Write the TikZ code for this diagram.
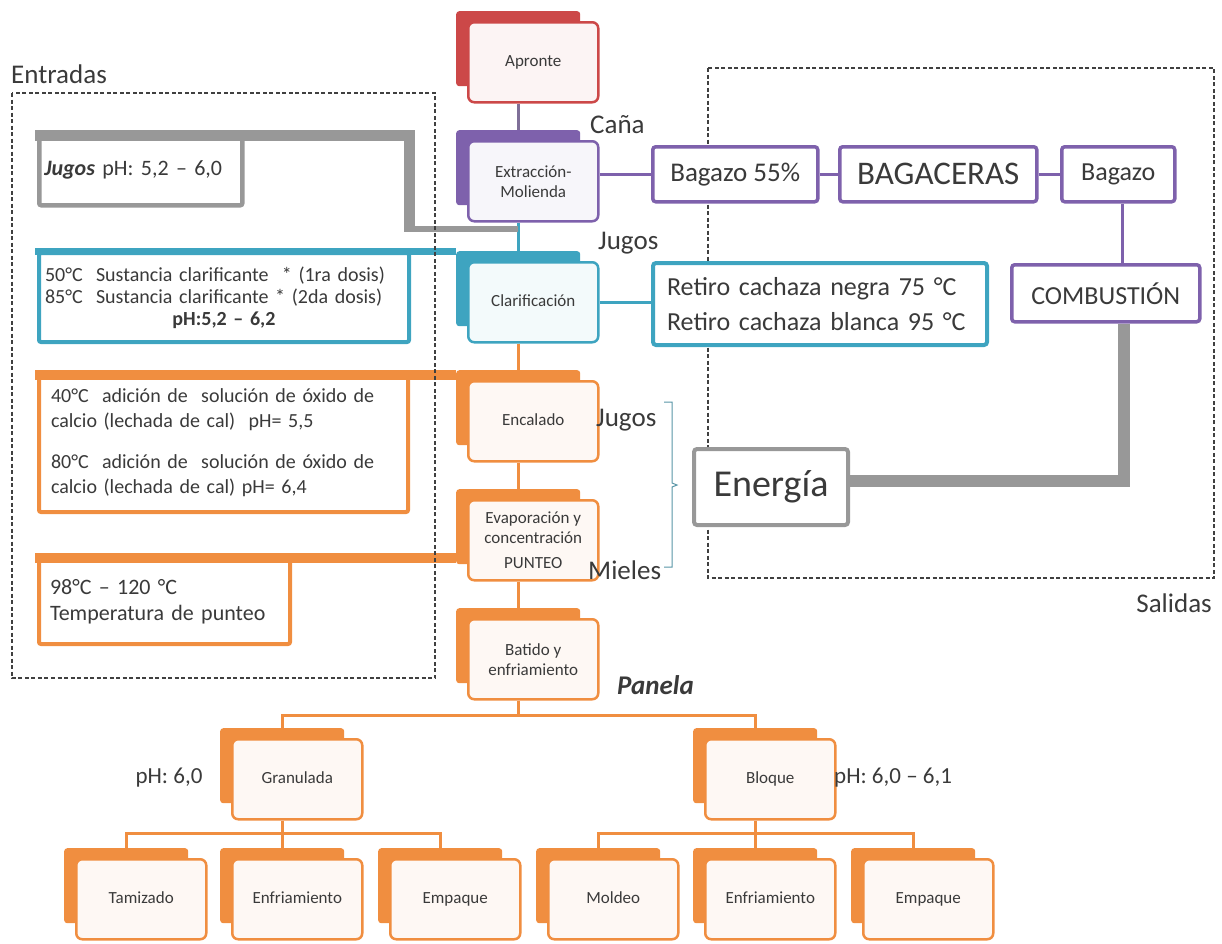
\documentclass[tikz,border=0pt]{standalone}
\usepackage{fontspec}
\setmainfont{Carlito}
\usetikzlibrary{positioning}

\definecolor{rojo}{RGB}{204,72,72}
\definecolor{lila}{RGB}{126,97,172}
\definecolor{turq}{RGB}{62,164,192}
\definecolor{naranja}{RGB}{240,142,64}
\definecolor{gris}{RGB}{152,152,152}
\definecolor{texto}{RGB}{58,58,58}

\tikzset{
  atras/.style={fill=#1, rounded corners=3pt, minimum width=124pt, minimum height=75pt,
    inner sep=0pt, anchor=north west},
  frente/.style={draw=#1, fill=#1!6, line width=2.5pt, rounded corners=6pt,
    minimum width=130pt, minimum height=80pt, inner sep=1pt, align=center,
    anchor=north west, text=texto, font=\fontsize{17}{20}\selectfont},
  lado/.style={draw=#1, fill=white, line width=4pt, rounded corners=2pt,
    anchor=north west, align=left, text=texto, font=\fontsize{20}{25}\selectfont},
  caja/.style={draw=#1, fill=white, line width=3.5pt, rounded corners=3pt,
    anchor=north west, inner sep=0pt, text=texto},
  lin/.style={line width=3pt},
  etiq/.style={text=texto, font=\fontsize{27}{32}\selectfont, inner sep=0pt},
  recuadro/.style={draw=black!75, line width=1.1pt, dash pattern=on 4pt off 2.5pt},
}

\begin{document}
\begin{tikzpicture}[x=1pt, y=-1pt]
  \useasboundingbox (0,0) rectangle (1222,943);

  % salidas
  \draw[recuadro] (708,68) rectangle (1214,578);
  \node[etiq, anchor=east] (salidas) at (1212,603) {Salidas};
  \node[etiq, anchor=west] (entradas) at (11,74) {Entradas};

  % columna del proceso
  \node[atras=rojo] (apr-b) at (456,11) {};
  \node[frente=rojo] (apr) at ([shift={(11pt,-10pt)}]apr-b.north west) {\strut Apronte};
  \node[atras=lila] (ext-b) at (456,130) {};
  \node[frente=lila] (ext) at ([shift={(11pt,-10pt)}]ext-b.north west) {Extracción-\\Molienda};
  \node[atras=turq] (cla-b) at (456,251) {};
  \node[frente=turq] (cla) at ([shift={(11pt,-10pt)}]cla-b.north west) {\strut Clarificación};
  \node[atras=naranja] (enc-b) at (456,370) {};
  \node[frente=naranja] (enc) at ([shift={(11pt,-10pt)}]enc-b.north west) {\strut Encalado};
  \node[atras=naranja] (eva-b) at (456,489) {};
  \node[frente=naranja] (eva) at ([shift={(11pt,-10pt)}]eva-b.north west) {Evaporación y\\concentración\\[5pt]PUNTEO};
  \node[atras=naranja] (bat-b) at (456,608) {};
  \node[frente=naranja] (bat) at ([shift={(11pt,-10pt)}]bat-b.north west) {Batido y\\enfriamiento};

  % panela
  \node[atras=naranja] (gra-b) at (220,728) {};
  \node[frente=naranja] (gra) at ([shift={(11pt,-10pt)}]gra-b.north west) {\strut Granulada};
  \node[atras=naranja] (blo-b) at (693,728) {};
  \node[frente=naranja] (blo) at ([shift={(11pt,-10pt)}]blo-b.north west) {\strut Bloque};
  \node[atras=naranja] (tam-b) at (64,848) {};
  \node[frente=naranja] (tam) at ([shift={(11pt,-10pt)}]tam-b.north west) {\strut Tamizado};
  \node[atras=naranja] (enf1-b) at (220,848) {};
  \node[frente=naranja] (enf1) at ([shift={(11pt,-10pt)}]enf1-b.north west) {\strut Enfriamiento};
  \node[atras=naranja] (emp1-b) at (378,848) {};
  \node[frente=naranja] (emp1) at ([shift={(11pt,-10pt)}]emp1-b.north west) {\strut Empaque};
  \node[atras=naranja] (mol-b) at (536,848) {};
  \node[frente=naranja] (mol) at ([shift={(11pt,-10pt)}]mol-b.north west) {\strut Moldeo};
  \node[atras=naranja] (enf2-b) at (693,848) {};
  \node[frente=naranja] (enf2) at ([shift={(11pt,-10pt)}]enf2-b.north west) {\strut Enfriamiento};
  \node[atras=naranja] (emp2-b) at (851,848) {};
  \node[frente=naranja] (emp2) at ([shift={(11pt,-10pt)}]emp2-b.north west) {\strut Empaque};

  % entradas
  \node[lado=gris, line width=4.5pt, text width=193pt, inner xsep=5pt, minimum height=71pt,
    font=\fontsize{22}{26}\selectfont] (jug) at (37,132) {\textbf{\textit{Jugos}} pH: 5,2 – 6,0};
  \node[lado=turq, text width=358pt, inner xsep=6pt, minimum height=89pt,
    font=\fontsize{20}{22}\selectfont] (clab) at (37,251)
    {50°C\ \ Sustancia clarificante\ \ * (1ra dosis)\\
     85°C\ \ Sustancia clarificante * (2da dosis)\\
     \hspace*{\fill}\textbf{pH:5,2 – 6,2}\hspace*{\fill}};
  \node[lado=naranja, text width=345pt, inner xsep=12pt, minimum height=138pt] (encb) at (37,372)
    {40°C\ \ adición de\ \ solución de óxido de\\
     calcio (lechada de cal)\ \ pH= 5,5\\[16pt]
     80°C\ \ adición de\ \ solución de óxido de\\
     calcio (lechada de cal) pH= 6,4};
  \node[lado=naranja, text width=229pt, inner xsep=11pt, minimum height=85pt,
    font=\fontsize{22}{26}\selectfont] (punb) at (37,557)
    {98°C – 120 °C\\Temperatura de punteo};

  % salidas
  \node[caja=lila, minimum width=165pt, minimum height=55pt, font=\fontsize{27}{32}\selectfont]
    (b55) at (651,145) {Bagazo 55\%};
  \node[caja=lila, minimum width=197pt, minimum height=55pt, font=\fontsize{33}{38}\selectfont]
    (bgc) at (838,145) {BAGACERAS};
  \node[caja=lila, minimum width=113pt, minimum height=55pt, font=\fontsize{26}{30}\selectfont]
    (bgz) at (1060,145) {Bagazo};
  \node[caja=lila, minimum width=188pt, minimum height=57pt, font=\fontsize{26}{30}\selectfont]
    (comb) at (1010,263) {COMBUSTIÓN};
  \node[caja=turq, line width=4pt, text width=306pt, inner xsep=14pt, minimum height=82pt,
    align=left, font=\fontsize{26}{35}\selectfont] (ret) at (651,261)
    {Retiro cachaza negra 75 °C\\Retiro cachaza blanca 95 °C};
  \node[caja=gris, line width=4pt, minimum width=154pt, minimum height=76pt,
    font=\fontsize{38}{44}\selectfont] (ene) at (692,447) {Energía};

  % textos sueltos
  \node[etiq, anchor=west] (cana) at (590,125) {Caña};
  \node[etiq, anchor=west] (jugos1) at (598,243) {Jugos};
  \node[etiq, anchor=west] (jugos2) at (596,420) {Jugos};
  \node[etiq, anchor=west] (mieles) at (588,570) {Mieles};
  \node[etiq, anchor=west] (panela) at (617,685) {\textbf{\textit{Panela}}};
  \node[etiq, font=\fontsize{23}{27}\selectfont] (ph1) at (169,778) {pH: 6,0};
  \node[etiq, anchor=west, font=\fontsize{23}{27}\selectfont] (ph2) at (834,778) {pH: 6,0 – 6,1};

  % conectores
  \draw[lin, lila!55!gray] (apr.south -| apr-b.south) -- (ext-b.north);
  \draw[lin, turq] (ext.south -| ext-b.south) -- (cla-b.north);
  \draw[lin, naranja] (cla.south -| cla-b.south) -- (enc-b.north);
  \draw[lin, naranja] (enc.south -| enc-b.south) -- (eva-b.north);
  \draw[lin, naranja] (eva.south -| eva-b.south) -- (bat-b.north);

  \draw[lin, naranja] (bat.south -| bat-b.south) -- ++(0,15) coordinate (pan);
  \draw[lin, naranja] (gra-b.north) |- (pan) -| (blo-b.north);
  \draw[lin, naranja] (gra.south -| gra-b.south) -- ++(0,13) coordinate (g0);
  \draw[lin, naranja] (tam-b.north) |- (g0) -| (emp1-b.north);
  \draw[lin, naranja] (g0) -- (g0 |- enf1-b.north);
  \draw[lin, naranja] (blo.south -| blo-b.south) -- ++(0,13) coordinate (b0);
  \draw[lin, naranja] (mol-b.north) |- (b0) -| (emp2-b.north);
  \draw[lin, naranja] (b0) -- (b0 |- enf2-b.north);

  \draw[lin, lila] (ext.east |- b55.west) -- (b55.west);
  \draw[lin, lila] (b55) -- (bgc);
  \draw[lin, lila] (bgc) -- (bgz);
  \draw[lin, lila] ([xshift=4pt]bgz.south) -- ([xshift=4pt]bgz.south |- comb.north);
  \draw[lin, turq] (cla.east) -- (cla.east -| ret.west);
  \draw[gris, line width=12pt] ([xshift=18pt]comb.south) |- ([yshift=6pt]ene.east);

  % lineas gruesas de entradas
  \coordinate (codo) at (409,232);
  \draw[gris, line width=11pt] ([shift={(-2pt,-3.5pt)}]jug.north west) -| (codo);
  \draw[gris, line width=6pt] ([yshift=3pt]codo) -- ([yshift=3pt]codo -| ext-b.south);
  \draw[turq, line width=7pt] ([xshift=-2pt]clab.north west) -- (clab.north west -| cla-b.west);
  \draw[naranja, line width=10pt] ([shift={(-2pt,-3pt)}]encb.north west) -- ([yshift=-3pt]encb.north west -| enc-b.west);
  \draw[naranja, line width=10pt] ([shift={(-2pt,-1pt)}]punb.north west) -- ([yshift=-1pt]punb.north west -| eva-b.west);

  % llave jugos - mieles
  \draw[turq!60!gray, line width=1pt] (664,402) -- (672,402) -- (672,483) -- (677,485)
    -- (672,487) -- (672,567) -- (664,567);

  % entradas
  \draw[recuadro] (12,93) rectangle (435,678);
\end{tikzpicture}
\end{document}
